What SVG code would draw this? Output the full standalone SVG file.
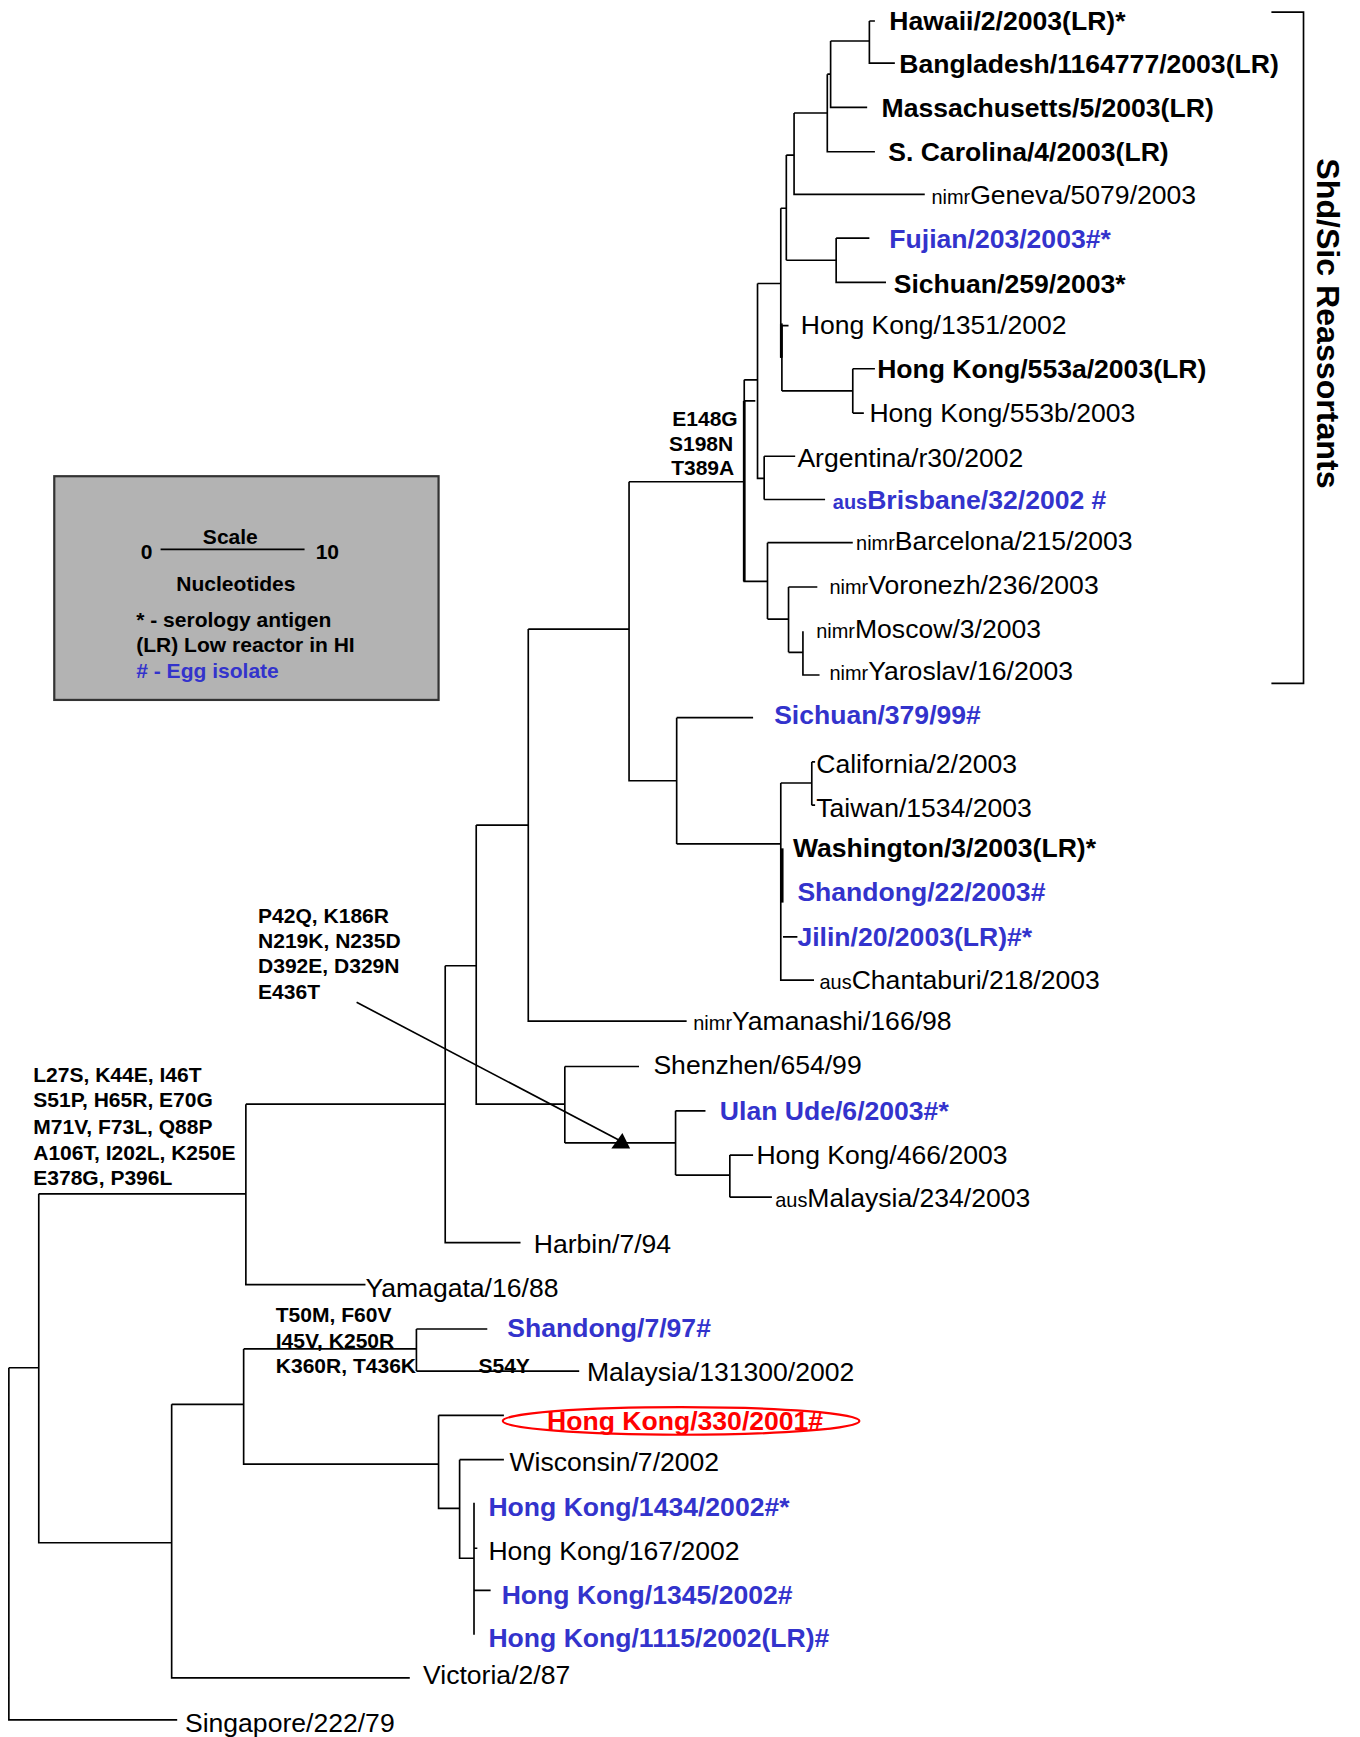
<svg xmlns="http://www.w3.org/2000/svg" width="1360" height="1737" viewBox="0 0 1360 1737">
<style>
text{font-family:"Liberation Sans",Arial,sans-serif;font-size:24px;fill:#000}
.b{font-weight:bold}
.bl{fill:#3333cc;font-weight:bold}
.rd{fill:#ff0000;font-weight:bold}
.m{font-size:19px;font-weight:bold}
.s{font-size:18px}
.e{fill:none;stroke:#000;stroke-width:1.5}
</style>
<rect width="1360" height="1737" fill="#fff"/>
<g transform="scale(1.10749)">
<g id="connectors">
<path class="e" d="M785,19H790M785,19V57H808M750,37H785M750,37V97H783M747,67H750M747,67V137H790M717,102H747M717,102V175.5H835M755,215H785M755,215V255H800M710,235H755M710,140H717M710,140V235M705,188H710M705,188V323M706,294H712M706,294V353M706,353H770M770,333V373M770,333H790M770,373H780M684,256H705M684,256V432H690M690,412V451M690,412H718M690,451H745M672,343H684M672,362H682M672,343V525H693M693,490V559M693,490H770M693,559H712M712,530V589M712,530H738M712,589H725M725,570V609.5H740M568,435H672M568,435V705H611M611,648V762M611,648H680M611,762H705M705,707V885H735M705,707H733M733,688V727M733,688H736M733,727H736M707,846H720M477,568H568M477,568V922H620M430,745H477M430,745V997H510M510,963V1032M510,963H577M510,1032H610M610,1003V1061M610,1003H637M610,1061H659M659,1043V1081M659,1043H680M659,1081H697M402,872H430M402,872V1122H470M222,997H402M222,997V1160H330M35,1078H222M35,1078V1393H155M8,1235H35M8,1235V1553H160M155,1268V1515H370M155,1268H220M220,1218V1322H396M220,1218H376M376,1200V1238M376,1200H440M376,1238H523M396,1278V1362H415M396,1278H455M415,1318V1407H428M415,1318H455M428,1357V1476M428,1436H443M428,1398H431"/>
<path d="M706,766V815" stroke="#000" stroke-width="3" fill="none"/>
<path d="M705.5,292V323" stroke="#000" stroke-width="2.5" fill="none"/>
<path d="M672,362V525" stroke="#000" stroke-width="2.5" fill="none"/>
<line x1="322" y1="905" x2="560" y2="1030" stroke="#000" stroke-width="1.5"/>
<polygon points="552,1037 569,1037 562,1023" fill="#000"/>
<path class="e" d="M1148,11H1177V617H1148"/>
</g>
<g id="legend">
<rect x="49" y="430" width="347" height="202" fill="#b3b3b3" stroke="#333" stroke-width="2"/>
<line x1="145" y1="496" x2="275" y2="496" stroke="#000" stroke-width="1.5"/>
<text class="m" x="208" y="491" text-anchor="middle">Scale</text>
<text class="m" x="127" y="505">0</text>
<text class="m" x="285" y="505">10</text>
<text class="m" x="213" y="534" text-anchor="middle">Nucleotides</text>
<text class="m" x="123" y="566">* - serology antigen</text>
<text class="m" x="123" y="589">(LR) Low reactor in HI</text>
<text class="m" x="123" y="612" style="fill:#3333cc">#  - Egg isolate</text>
</g>
<g id="group-label"><text class="b" style="font-size:29px" transform="translate(1189,143) rotate(90)">Shd/Sic Reassortants</text></g>
<g id="mutations">
<text class="m" x="607" y="385">E148G</text>
<text class="m" x="604" y="407">S198N</text>
<text class="m" x="606" y="429">T389A</text>
<text class="m" x="233" y="833">P42Q, K186R</text>
<text class="m" x="233" y="856">N219K, N235D</text>
<text class="m" x="233" y="879">D392E, D329N</text>
<text class="m" x="233" y="902">E436T</text>
<text class="m" x="30" y="977">L27S, K44E, I46T</text>
<text class="m" x="30" y="1000">S51P, H65R, E70G</text>
<text class="m" x="30" y="1024">M71V, F73L, Q88P</text>
<text class="m" x="30" y="1047">A106T, I202L, K250E</text>
<text class="m" x="30" y="1070">E378G, P396L</text>
<text class="m" x="249" y="1194">T50M, F60V</text>
<text class="m" x="249" y="1217">I45V, K250R</text>
<text class="m" x="249" y="1240">K360R, T436K</text>
<text class="m" x="432" y="1240">S54Y</text>
</g>
<g id="n-hawaii"><text class="b" x="803" y="27">Hawaii/2/2003(LR)*</text></g>
<g id="n-bangladesh"><text class="b" x="812" y="66">Bangladesh/1164777/2003(LR)</text></g>
<g id="n-massachusetts"><text class="b" x="796" y="106">Massachusetts/5/2003(LR)</text></g>
<g id="n-scarolina"><text class="b" x="802" y="145">S. Carolina/4/2003(LR)</text></g>
<g id="n-geneva"><text x="841" y="184"><tspan class="s">nimr</tspan>Geneva/5079/2003</text></g>
<g id="n-fujian"><text class="bl" x="803" y="224">Fujian/203/2003#*</text></g>
<g id="n-sichuan259"><text class="b" x="807" y="265">Sichuan/259/2003*</text></g>
<g id="n-hk1351"><text x="723" y="302">Hong Kong/1351/2002</text></g>
<g id="n-hk553a"><text class="b" x="792" y="341">Hong Kong/553a/2003(LR)</text></g>
<g id="n-hk553b"><text x="785" y="381">Hong Kong/553b/2003</text></g>
<g id="n-argentina"><text x="720" y="422">Argentina/r30/2002</text></g>
<g id="n-brisbane"><text class="bl" x="752" y="460"><tspan style="font-size:18px">aus</tspan>Brisbane/32/2002 #</text></g>
<g id="n-barcelona"><text x="773" y="497"><tspan class="s">nimr</tspan>Barcelona/215/2003</text></g>
<g id="n-voronezh"><text x="749" y="536"><tspan class="s">nimr</tspan>Voronezh/236/2003</text></g>
<g id="n-moscow"><text x="737" y="576"><tspan class="s">nimr</tspan>Moscow/3/2003</text></g>
<g id="n-yaroslav"><text x="749" y="614"><tspan class="s">nimr</tspan>Yaroslav/16/2003</text></g>
<g id="n-sichuan379"><text class="bl" x="699" y="654">Sichuan/379/99#</text></g>
<g id="n-california"><text x="737" y="698">California/2/2003</text></g>
<g id="n-taiwan"><text x="737" y="738">Taiwan/1534/2003</text></g>
<g id="n-washington"><text class="b" x="716" y="774">Washington/3/2003(LR)*</text></g>
<g id="n-shandong22"><text class="bl" x="720" y="814">Shandong/22/2003#</text></g>
<g id="n-jilin"><text class="bl" x="720" y="854">Jilin/20/2003(LR)#*</text></g>
<g id="n-chantaburi"><text x="740" y="893"><tspan class="s">aus</tspan>Chantaburi/218/2003</text></g>
<g id="n-yamanashi"><text x="626" y="930"><tspan class="s">nimr</tspan>Yamanashi/166/98</text></g>
<g id="n-shenzhen"><text x="590" y="970">Shenzhen/654/99</text></g>
<g id="n-ulanude"><text class="bl" x="650" y="1011">Ulan Ude/6/2003#*</text></g>
<g id="n-hk466"><text x="683" y="1051">Hong Kong/466/2003</text></g>
<g id="n-malaysia234"><text x="700" y="1090"><tspan class="s">aus</tspan>Malaysia/234/2003</text></g>
<g id="n-harbin"><text x="482" y="1131">Harbin/7/94</text></g>
<g id="n-yamagata"><text x="330" y="1171">Yamagata/16/88</text></g>
<g id="n-shandong797"><text class="bl" x="458" y="1207">Shandong/7/97#</text></g>
<g id="n-malaysia131300"><text x="530" y="1247">Malaysia/131300/2002</text></g>
<g id="n-hk330"><ellipse cx="615" cy="1283" rx="161" ry="12.5" fill="none" stroke="#ff0000" stroke-width="2"/><text class="rd" x="494" y="1291">Hong Kong/330/2001#</text></g>
<g id="n-wisconsin"><text x="460" y="1328">Wisconsin/7/2002</text></g>
<g id="n-hk1434"><text class="bl" x="441" y="1369">Hong Kong/1434/2002#*</text></g>
<g id="n-hk167"><text x="441" y="1409">Hong Kong/167/2002</text></g>
<g id="n-hk1345"><text class="bl" x="453" y="1448">Hong Kong/1345/2002#</text></g>
<g id="n-hk1115"><text class="bl" x="441" y="1487">Hong Kong/1115/2002(LR)#</text></g>
<g id="n-victoria"><text x="382" y="1521">Victoria/2/87</text></g>
<g id="n-singapore"><text x="167" y="1564">Singapore/222/79</text></g>
</g>
</svg>
